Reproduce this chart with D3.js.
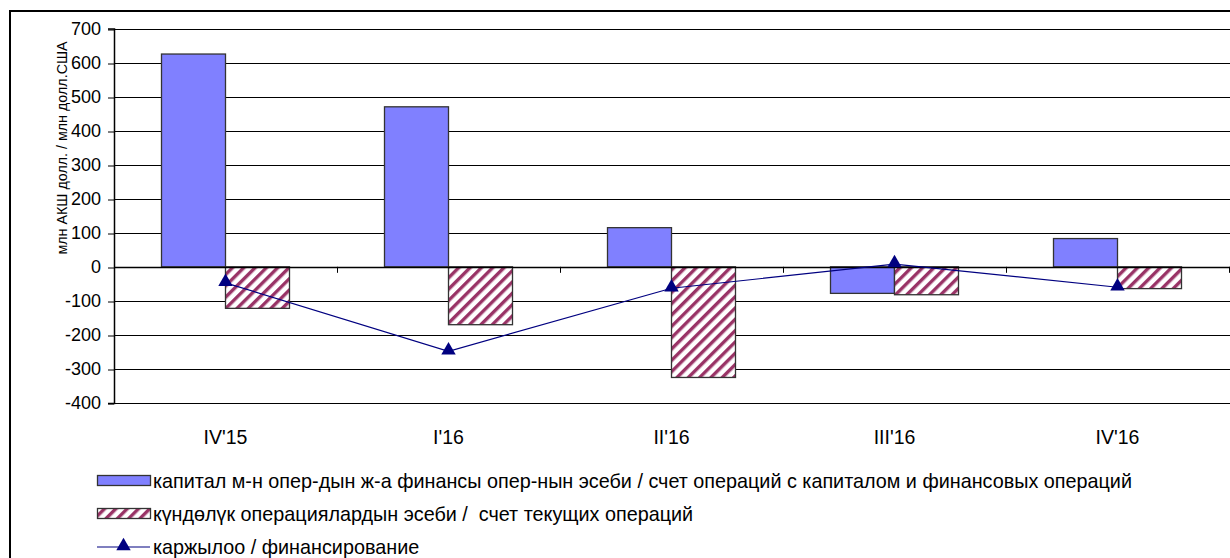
<!DOCTYPE html>
<html>
<head>
<meta charset="utf-8">
<script src="https://cdn.jsdelivr.net/npm/d3@7"></script>
<style>
  body { margin: 0; background: #fff; }
  svg { display: block; font-family: 'Liberation Sans', Arial, sans-serif; }
</style>
</head>
<body>
<svg width="1230" height="558"></svg>
<script>
const quarters = ["IV'15", "I'16", "II'16", "III'16", "IV'16"];
const capitalAccount = [625, 470, 115, -78, 83];
const currentAccount = [-122, -170, -325, -82, -64];
const financing = [-47, -248, -63, 8, -60];
const yTicks = [-400, -300, -200, -100, 0, 100, 200, 300, 400, 500, 600, 700];

const seriesNames = [
  'капитал м-н опер-дын ж-а финансы опер-нын эсеби / счет операций с капиталом и финансовых операций',
  'күндөлүк операциялардын эсеби /  счет текущих операций',
  'каржылоо / финансирование'
];
const yTitle = 'млн АКШ долл. / млн долл.США';

const plotLeft = 114;
const plotRight = 1229;
const plotTop = 28.5;
const plotBottom = 403;

const svg = d3.select('svg');

const defs = svg.append('defs');
const hatch = defs.append('pattern')
  .attr('id', 'hatch')
  .attr('patternUnits', 'userSpaceOnUse')
  .attr('width', 8)
  .attr('height', 8)
  .attr('patternTransform', 'rotate(45)');
hatch.append('rect').attr('width', 8).attr('height', 8).attr('fill', '#fff');
hatch.append('rect').attr('width', 3.4).attr('height', 8).attr('fill', '#993366');

// outer frame (right and bottom edges are off the picture)
svg.append('path')
  .attr('d', 'M10,560 V11 H1232')
  .attr('fill', 'none')
  .attr('stroke', '#000')
  .attr('stroke-width', 2);

const xScale = d3.scaleBand()
  .domain(quarters)
  .range([plotLeft, plotRight])
  .paddingInner(0.426)
  .paddingOuter(0.213);

const xSub = d3.scaleBand()
  .domain([0, 1])
  .range([0, xScale.bandwidth()]);

const yScale = d3.scaleLinear()
  .domain([-400, 700])
  .range([plotBottom, plotTop]);

// gridlines
svg.append('g')
  .selectAll('line')
  .data(yTicks)
  .enter()
  .append('line')
  .attr('x1', plotLeft)
  .attr('x2', plotRight + 1)
  .attr('y1', d => Math.round(yScale(d)) + 0.5)
  .attr('y2', d => Math.round(yScale(d)) + 0.5)
  .attr('stroke', '#000')
  .attr('stroke-width', 1);

// y axis
const yAxis = d3.axisLeft(yScale)
  .tickValues(yTicks)
  .tickFormat(d => String(d))
  .tickSize(6)
  .tickPadding(7);

const yG = svg.append('g')
  .attr('transform', `translate(${plotLeft}, 0)`)
  .call(yAxis);
yG.select('.domain').attr('stroke-width', 1.5);
yG.selectAll('.tick line').attr('transform', d => `translate(0, ${Math.round(yScale(d)) + 0.5 - yScale(d)})`);
yG.selectAll('text').attr('font-size', 18).attr('fill', '#000').attr('font-family', null);

svg.append('text')
  .attr('transform', `translate(67, 148) rotate(-90)`)
  .attr('text-anchor', 'middle')
  .attr('font-size', 14.3)
  .text(yTitle);

// bars
const barStyle = (sel) => sel
  .attr('stroke', '#333')
  .attr('stroke-width', 1.3);

svg.append('g')
  .selectAll('rect')
  .data(capitalAccount)
  .enter()
  .append('rect')
  .attr('x', (d, i) => xScale(quarters[i]) + xSub(0))
  .attr('width', xSub.bandwidth())
  .attr('y', d => yScale(Math.max(0, d)))
  .attr('height', d => Math.abs(yScale(d) - yScale(0)))
  .attr('fill', '#8080ff')
  .call(barStyle);

svg.append('g')
  .selectAll('rect')
  .data(currentAccount)
  .enter()
  .append('rect')
  .attr('x', (d, i) => xScale(quarters[i]) + xSub(1))
  .attr('width', xSub.bandwidth())
  .attr('y', d => yScale(Math.max(0, d)))
  .attr('height', d => Math.abs(yScale(d) - yScale(0)))
  .attr('fill', 'url(#hatch)')
  .call(barStyle);

// x axis at zero
const xTickPos = d3.range(quarters.length + 1).map(i => plotLeft + i * xScale.step());
const xG = svg.append('g');
xG.append('line')
  .attr('x1', plotLeft)
  .attr('x2', plotRight + 1)
  .attr('y1', Math.round(yScale(0)) + 0.5)
  .attr('y2', Math.round(yScale(0)) + 0.5)
  .attr('stroke', '#000')
  .attr('stroke-width', 1.6);
xG.selectAll('.xtick')
  .data(xTickPos)
  .enter()
  .append('line')
  .attr('x1', d => Math.round(d) + 0.5)
  .attr('x2', d => Math.round(d) + 0.5)
  .attr('y1', yScale(0))
  .attr('y2', yScale(0) + 6)
  .attr('stroke', '#000');

svg.append('g')
  .selectAll('text')
  .data(quarters)
  .enter()
  .append('text')
  .attr('x', d => xScale(d) + xScale.bandwidth() / 2)
  .attr('y', 444)
  .attr('text-anchor', 'middle')
  .attr('font-size', 19.5)
  .text(d => d);

// financing line
const cx = (i) => xScale(quarters[i]) + xScale.bandwidth() / 2;
const line = d3.line()
  .x((d, i) => cx(i))
  .y(d => yScale(d));

svg.append('path')
  .datum(financing)
  .attr('d', line)
  .attr('fill', 'none')
  .attr('stroke', '#000080')
  .attr('stroke-width', 1.2);

const tri = d3.symbol().type(d3.symbolTriangle).size(90);
svg.append('g')
  .selectAll('path')
  .data(financing)
  .enter()
  .append('path')
  .attr('d', tri)
  .attr('transform', (d, i) => `translate(${cx(i)}, ${yScale(d) - 1})`)
  .attr('fill', '#000080');

// legend
const legendY = [481, 514, 547];
const lg = svg.append('g');

lg.append('rect')
  .attr('x', 97.5).attr('y', legendY[0] - 5.5)
  .attr('width', 53).attr('height', 10)
  .attr('fill', '#8080ff')
  .call(barStyle);
lg.append('rect')
  .attr('x', 97.5).attr('y', legendY[1] - 5.5)
  .attr('width', 53).attr('height', 10)
  .attr('fill', 'url(#hatch)')
  .call(barStyle);
lg.append('line')
  .attr('x1', 97).attr('x2', 150)
  .attr('y1', legendY[2]).attr('y2', legendY[2])
  .attr('stroke', '#000080')
  .attr('stroke-width', 1.2);
lg.append('path')
  .attr('d', tri)
  .attr('transform', `translate(123.5, ${legendY[2] - 1})`)
  .attr('fill', '#000080');

lg.selectAll('text')
  .data(seriesNames)
  .enter()
  .append('text')
  .attr('x', 153)
  .attr('y', (d, i) => legendY[i])
  .attr('dy', '0.35em')
  .attr('font-size', 19.8)
  .style('white-space', 'pre')
  .text(d => d);
</script>
</body>
</html>
